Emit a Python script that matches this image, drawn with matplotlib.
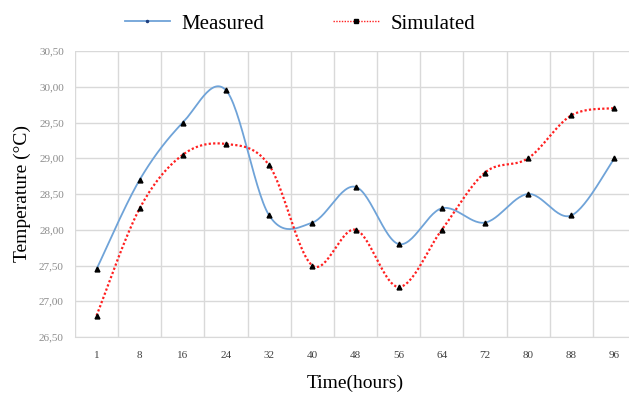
import numpy as np
import matplotlib
matplotlib.use('Agg')
import matplotlib.pyplot as plt
from matplotlib.lines import Line2D

# data
hours = ['1', '8', '16', '24', '32', '40', '48', '56', '64', '72', '80', '88', '96']
measured = [27.45, 28.7, 29.5, 29.95, 28.2, 28.1, 28.6, 27.8, 28.3, 28.1, 28.5, 28.2, 29.0]
simulated = [26.8, 28.3, 29.05, 29.2, 28.9, 27.5, 28.0, 27.2, 28.0, 28.8, 29.0, 29.6, 29.7]
yticks = [26.5, 27.0, 27.5, 28.0, 28.5, 29.0, 29.5, 30.0, 30.5]


def smooth(x, y, n=30):
    # excel-like smoothed line (catmull-rom as bezier)
    x = np.asarray(x, float)
    y = np.asarray(y, float)
    px = np.concatenate([[x[0]], x, [x[-1]]])
    py = np.concatenate([[y[0]], y, [y[-1]]])
    t = np.linspace(0, 1, n)
    xs, ys = [], []
    for i in range(1, len(px) - 2):
        p0 = np.array([px[i], py[i]])
        p3 = np.array([px[i + 1], py[i + 1]])
        c1 = p0 + (np.array([px[i + 1], py[i + 1]]) - np.array([px[i - 1], py[i - 1]])) / 6
        c2 = p3 - (np.array([px[i + 2], py[i + 2]]) - np.array([px[i], py[i]])) / 6
        b = ((1 - t) ** 3)[:, None] * p0 + (3 * (1 - t) ** 2 * t)[:, None] * c1 \
            + (3 * (1 - t) * t ** 2)[:, None] * c2 + (t ** 3)[:, None] * p3
        xs.extend(b[:, 0])
        ys.extend(b[:, 1])
    return np.array(xs), np.array(ys)


plt.rcParams['font.family'] = ['Liberation Serif', 'DejaVu Serif']

fig = plt.figure(figsize=(6.29, 3.98), dpi=100)
ax = fig.add_axes([75 / 629, 1 - 337 / 398, (636 - 75) / 629, (337 - 51) / 398])

xpos = np.arange(len(hours))
blue = '#6fa3d8'
red = '#ff2020'

mx, my = smooth(xpos, measured)
sx, sy = smooth(xpos, simulated)
ax.plot(mx, my, color=blue, lw=1.3, zorder=3)
ax.plot(sx, sy, color=red, lw=1.6, ls=(0, (1, 1)), zorder=3)
ax.plot(xpos, measured, ls='none', marker='^', ms=3.5, color='black', zorder=4)
ax.plot(xpos, simulated, ls='none', marker='^', ms=3.5, color='black', zorder=4)

ax.set_xlim(-0.5, len(hours) - 0.5)
ax.set_ylim(26.5, 30.5)
ax.set_xticks(xpos)
ax.set_xticklabels(hours, fontsize=8, color='#404040')
ax.set_xticks(np.arange(len(hours) + 1) - 0.5, minor=True)
ax.set_yticks(yticks)
ax.set_yticklabels([('%.2f' % v).replace('.', ',') for v in yticks], fontsize=8, color='#8c8c8c')
ax.yaxis.set_tick_params(length=0, pad=8)
ax.xaxis.set_tick_params(which='both', length=0, pad=10)

ax.grid(True, axis='y', color='#d9d9d9', lw=1)
ax.grid(True, axis='x', which='minor', color='#d9d9d9', lw=1)
ax.grid(False, axis='x', which='major')
ax.set_axisbelow(True)
for s in ax.spines.values():
    s.set_visible(False)
ax.spines['bottom'].set_visible(True)
ax.spines['bottom'].set_color('#d9d9d9')

ax.set_xlabel('Time(hours)', fontsize=14, labelpad=11)
ax.set_ylabel('Temperature (°C)', fontsize=14, labelpad=6)

handles = [Line2D([], [], color=blue, lw=1.3, marker='.', ms=3, mfc='#1f3f7f', mec='#1f3f7f'),
           Line2D([], [], color=red, lw=1.0, ls=(0, (1, 1)), marker='s', ms=3, mfc='black', mec='black')]
fig.legend(handles, ['Measured', 'Simulated'], loc='upper center', bbox_to_anchor=(0.477, 1.012),
           ncol=2, frameon=False, fontsize=15, handlelength=2.2, columnspacing=3.3,
           handletextpad=0.55)

fig.savefig('out.png', dpi=100)
